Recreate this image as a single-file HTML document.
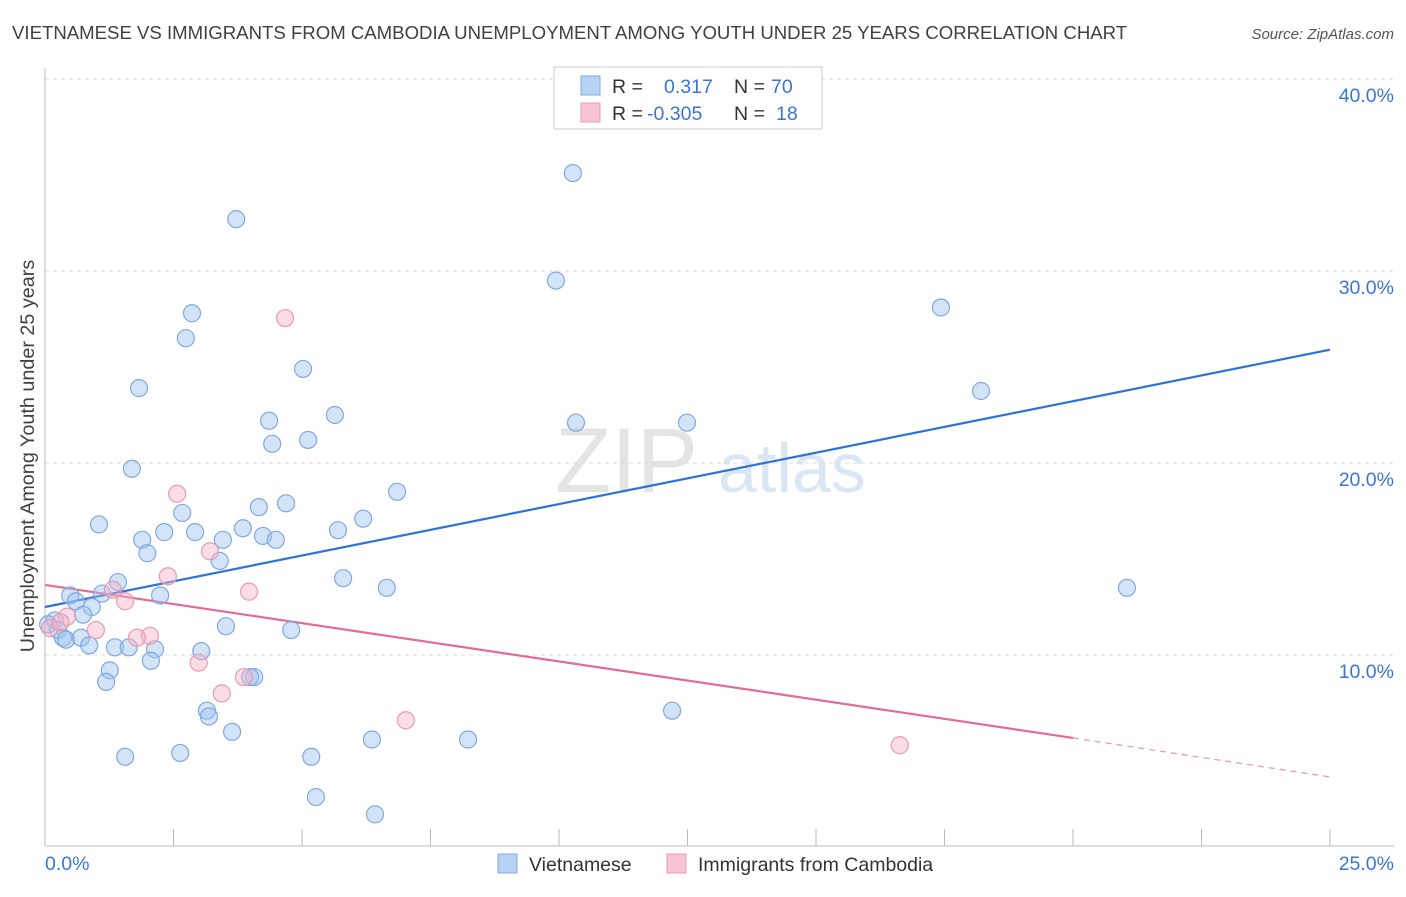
<!DOCTYPE html>
<html><head><meta charset="utf-8"><style>
body{margin:0;background:#fff;font-family:"Liberation Sans",sans-serif}
svg text{font-family:"Liberation Sans",sans-serif}
</style></head><body>
<svg id="chart" width="1406" height="892" xmlns="http://www.w3.org/2000/svg">
<text x="12" y="39" font-size="18.6" fill="#404040">VIETNAMESE VS IMMIGRANTS FROM CAMBODIA UNEMPLOYMENT AMONG YOUTH UNDER 25 YEARS CORRELATION CHART</text>
<text x="1394" y="39" font-size="15" fill="#555" text-anchor="end" font-style="italic">Source: ZipAtlas.com</text>
<g><text x="555" y="492" font-size="92" fill="#e4e4e4" font-family="Liberation Serif">ZIP</text><text x="718" y="492" font-size="70" fill="#dbe6f5">atlas</text></g>
<g id="grid"></g><g id="axes"></g><g id="lines"></g><g id="pts"></g>
<text transform="translate(34,456) rotate(-90)" font-size="19.8" fill="#404040" text-anchor="middle">Unemployment Among Youth under 25 years</text>
<g>
<rect x="554" y="67" width="268" height="62" fill="#fff" stroke="#ccc"/>
<rect x="581" y="76" width="19" height="19" fill="#b8d2f5" stroke="#7fa9e0"/>
<rect x="581" y="103" width="19" height="19" fill="#f8c4d4" stroke="#e89ab5"/>
<text x="612" y="93" font-size="19.5" fill="#333">R =</text><text x="664" y="93" font-size="19.5" fill="#3a76d0">0.317</text>
<text x="734" y="93" font-size="19.5" fill="#333">N =</text><text x="771" y="93" font-size="19.5" fill="#3a76d0">70</text>
<text x="612" y="120" font-size="19.5" fill="#333">R =</text><text x="647" y="120" font-size="19.5" fill="#3a76d0">-0.305</text>
<text x="734" y="120" font-size="19.5" fill="#333">N =</text><text x="776" y="120" font-size="19.5" fill="#3a76d0">18</text>
</g>
<g><rect x="498" y="854" width="19" height="19" fill="#b8d2f5" stroke="#7fa9e0"/><text x="529" y="871" font-size="19.5" fill="#333">Vietnamese</text></g>
<g><rect x="667" y="854" width="19" height="19" fill="#f8c4d4" stroke="#e89ab5"/><text x="698" y="871" font-size="19.5" fill="#333">Immigrants from Cambodia</text></g>
</svg>
<script>
const yTicks=[10,20,30,40];
const yTickLabels=["10.0%","20.0%","30.0%","40.0%"];
const xTicks=[0,2.5,5,7.5,10,12.5,15,17.5,20,22.5,25];
const blueX=[10.27,3.72,9.94,17.43,2.86,2.74,5.02,1.83,18.21,5.64,4.36,10.33,12.49,5.12,4.42,1.69,6.85,4.69,4.16,2.67,6.19,1.05,3.85,5.70,2.32,2.92,4.24,4.49,3.46,1.89,1.99,3.40,5.80,1.42,6.65,21.05,0.49,1.11,2.24,0.60,0.91,0.74,0.19,0.06,0.25,3.52,4.79,0.35,0.41,0.70,0.86,1.36,1.63,2.14,3.04,2.06,1.26,1.19,4.07,3.99,3.15,3.19,12.2,3.64,6.36,8.23,2.63,1.56,5.18,5.27,6.42];
const blueY=[35.1,32.7,29.5,28.1,27.8,26.5,24.9,23.9,23.75,22.5,22.2,22.1,22.1,21.2,21.0,19.7,18.5,17.9,17.7,17.4,17.1,16.8,16.6,16.5,16.4,16.4,16.2,16.0,16.0,16.0,15.3,14.9,14.0,13.8,13.5,13.5,13.1,13.2,13.1,12.8,12.5,12.1,11.8,11.6,11.3,11.5,11.3,10.9,10.8,10.9,10.5,10.4,10.4,10.3,10.2,9.7,9.2,8.6,8.85,8.85,7.1,6.8,7.1,6.0,5.6,5.6,4.9,4.7,4.7,2.6,1.7];
const pinkX=[4.67,2.57,3.21,2.39,3.97,1.32,1.56,0.43,0.99,2.04,1.79,2.99,3.87,3.44,7.02,16.63,0.1,0.3];
const pinkY=[27.55,18.4,15.4,14.1,13.3,13.4,12.8,12.0,11.3,11.0,10.9,9.6,8.85,8.0,6.6,5.3,11.4,11.7];
const blueLineX=[0,25], blueLineY=[12.5,25.9];
const pinkLineX=[0,20,25], pinkLineY=[13.65,5.68,3.65];
const sx=v=>45+v*51.4, sy=v=>847-v*19.2;
const NS="http://www.w3.org/2000/svg";
function mk(p,t,a){const e=document.createElementNS(NS,t);for(const k in a)e.setAttribute(k,a[k]);document.getElementById(p).appendChild(e);return e;}
yTicks.forEach((t,i)=>{
 const g=mk('grid','line',{x1:45,x2:1394,y1:sy(t),y2:sy(t),stroke:'#ddd','stroke-dasharray':'4,4'});
 
 
 const l=mk('axes','text',{x:1394,y:sy(t)+23,'font-size':19.5,fill:'#3a76d0','text-anchor':'end'});l.textContent=yTickLabels[i];
 
 
});
const ya=mk('axes','line',{x1:45,x2:45,y1:68,y2:846,stroke:'#bbb'});


const xa=mk('axes','line',{x1:45,x2:1394,y1:846,y2:846,stroke:'#bbb'});


xTicks.forEach(t=>{const e=mk('axes','line',{x1:sx(t),x2:sx(t),y1:829,y2:846,stroke:'#bbb'});
 
 });
const x0=mk('axes','text',{x:45,y:870,'font-size':19.5,fill:'#3a76d0'});x0.textContent='0.0%';


const x1=mk('axes','text',{x:1394,y:870,'font-size':19.5,fill:'#3a76d0','text-anchor':'end'});x1.textContent='25.0%';


blueX.forEach((v,i)=>{const c=mk('pts','circle',{cx:sx(v),cy:sy(blueY[i]),r:8.5,fill:'rgba(160,196,240,0.45)',stroke:'#7fa9e0','stroke-width':1.2});
 
 });
pinkX.forEach((v,i)=>{const c=mk('pts','circle',{cx:sx(v),cy:sy(pinkY[i]),r:8.5,fill:'rgba(245,180,200,0.45)',stroke:'#e89ab5','stroke-width':1.2});
 
 });
const bl=mk('lines','line',{x1:sx(blueLineX[0]),y1:sy(blueLineY[0]),x2:sx(blueLineX[1]),y2:sy(blueLineY[1]),stroke:'#2f72d6','stroke-width':2.2});


const pl=mk('lines','line',{x1:sx(pinkLineX[0]),y1:sy(pinkLineY[0]),x2:sx(pinkLineX[1]),y2:sy(pinkLineY[1]),stroke:'#e56a98','stroke-width':2.2});


const pd=mk('lines','line',{x1:sx(pinkLineX[1]),y1:sy(pinkLineY[1]),x2:sx(pinkLineX[2]),y2:sy(pinkLineY[2]),stroke:'#e89ab5','stroke-width':1.3,'stroke-dasharray':'6,5'});


</script>
</body></html>
